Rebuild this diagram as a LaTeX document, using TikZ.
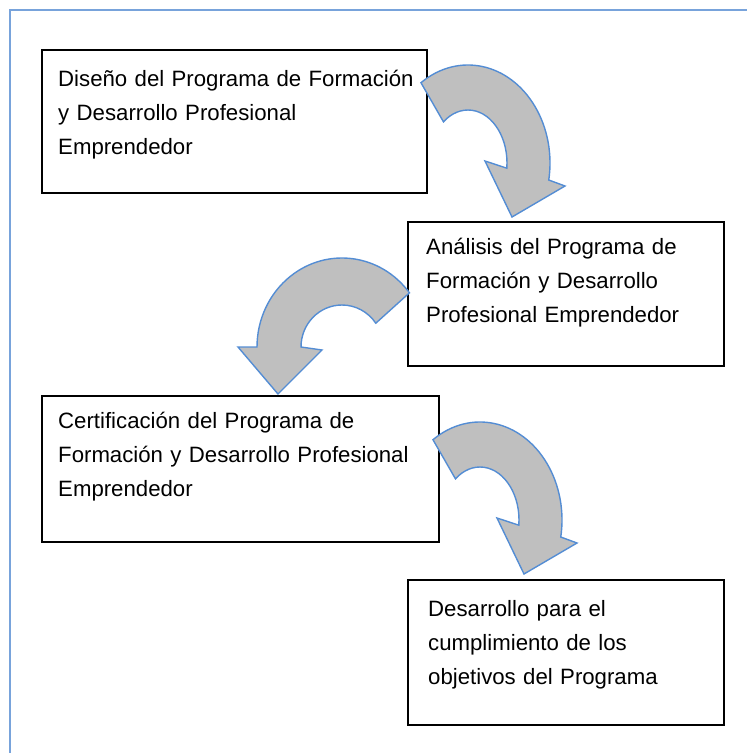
\documentclass[tikz,border=0pt]{standalone}
\usepackage{fontspec}
\setmainfont{Liberation Sans}
\usetikzlibrary{positioning}

\definecolor{arrowline}{RGB}{84,141,212}
\definecolor{arrowfill}{RGB}{191,191,191}
\definecolor{framecol}{RGB}{120,163,219}

% curved block arrow turning clockwise, #1 = centre of its arcs
\newcommand{\bendright}[1]{%
  \begin{scope}[shift={(#1)}]
    \draw[bent] (-47.03,-80.28) arc[start angle=-125, end angle=10, x radius=82, y radius=98]
      -- (97,23) -- (44,54) -- (17,-2) -- (38.81,5.17)
      arc[start angle=5.6, end angle=-129, x radius=39, y radius=53] -- cycle;
  \end{scope}}

% curved block arrow turning anticlockwise, #1 = centre of its arcs
\newcommand{\bendleft}[1]{%
  \begin{scope}[shift={(#1)}]
    \draw[bent] (67.44,-54.18) arc[start angle=-37.5, end angle=-180, x radius=85, y radius=89]
      -- (-104,0) -- (-64,47) -- (-20,3) -- (-41,0)
      arc[start angle=-180, end angle=-34.5, x radius=41, y radius=42] -- cycle;
  \end{scope}}

\begin{document}
\begin{tikzpicture}[x=1pt, y=-1pt,
    stage/.style={draw, line width=1.6pt, inner sep=0pt, anchor=north west},
    stagetext/.style={anchor=base west, inner sep=0pt, text width=390pt, align=left,
      font=\fontsize{22.2}{34}\selectfont},
    bent/.style={draw=arrowline, fill=arrowfill, line width=1.4pt, line join=miter},
    frame/.style={draw=framecol, line width=1.8pt}]
  \useasboundingbox (0,0) rectangle (747,753);

  \draw[frame] (10,753) -- (10,10) -- (747,10);

  \node[stage, minimum width=385pt, minimum height=143pt] (b1) at (41,49) {};
  \node[stage, minimum width=316pt, minimum height=144pt] (b2) at (407,221) {};
  \node[stage, minimum width=397pt, minimum height=146pt] (b3) at (41,395) {};
  \node[stage, minimum width=316pt, minimum height=145pt] (b4) at (407,579) {};

  \node[stagetext] (t1) at ([xshift=17pt, yshift=-37pt]b1.north west)
    {Diseño del Programa de Formación\\y Desarrollo Profesional\\Emprendedor};
  \node[stagetext] (t2) at ([xshift=19pt, yshift=-33pt]b2.north west)
    {Análisis del Programa de\\Formación y Desarrollo\\Profesional Emprendedor};
  \node[stagetext] (t3) at ([xshift=17pt, yshift=-33pt]b3.north west)
    {Certificación del Programa de\\Formación y Desarrollo Profesional\\Emprendedor};
  \node[stagetext] (t4) at ([xshift=21pt, yshift=-37pt]b4.north west)
    {Desarrollo para el\\cumplimiento de los\\objetivos del Programa};

  % arrows between the stages
  \coordinate (c1) at (468,163);
  \coordinate (c2) at (342,347);
  \coordinate (c3) at (480,520);
  \bendright{c1}
  \bendleft{c2}
  \bendright{c3}
\end{tikzpicture}
\end{document}
